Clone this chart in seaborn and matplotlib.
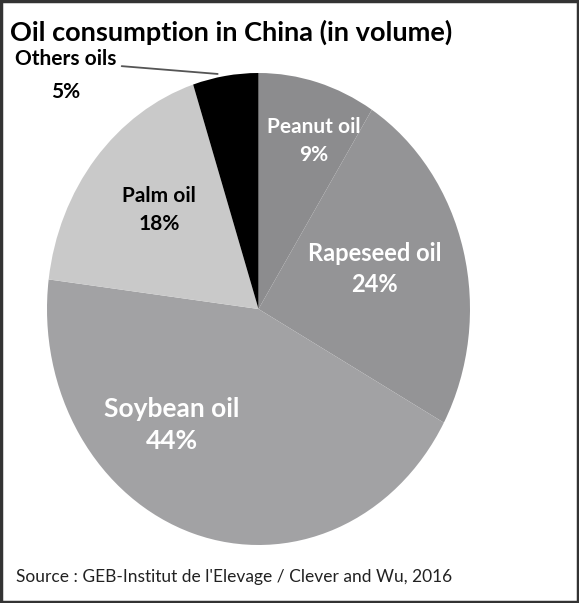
import matplotlib
matplotlib.use("Agg")
import matplotlib.pyplot as plt
import seaborn as sns
from matplotlib.patches import Rectangle

sns.set_theme(style="white")
plt.rcParams['font.family'] = ['Lato', 'DejaVu Sans']

# data, clockwise from the top
labels = ["Peanut oil", "Rapeseed oil", "Soybean oil", "Palm oil", "Others oils"]
shares = [9, 24, 44, 18, 5]
colors = ["#8c8c8e", "#949496", "#a2a2a4", "#c9c9c9", "#000000"]
text_colors = ["white", "white", "white", "black", "black"]
# label centres in axes data units (pie is stretched so 1 = radius on each axis)
label_pos = [(0.26, 0.71), (0.55, 0.17), (-0.41, -0.49), (-0.47, 0.42), (-0.91, 0.99)]
label_size = [15, 17, 19, 15, 15]
label_spacing = [1.5, 1.45, 1.4, 1.5, 1.85]

fig = plt.figure(figsize=(5.79, 6.03), dpi=100)
ax = fig.add_axes([47 / 579, 58 / 603, 423 / 579, 472 / 603])

wedges, _ = ax.pie(shares, colors=colors, startangle=90, counterclock=False,
                   wedgeprops=dict(linewidth=0))
ax.set_aspect('auto')
ax.set_xlim(-1, 1)
ax.set_ylim(-1, 1)
ax.axis('off')

for lab, val, (x, y), c, s, ls in zip(labels, shares, label_pos, text_colors,
                                      label_size, label_spacing):
    ax.text(x, y, f"{lab}\n{val}%", ha='center', va='center', color=c,
            fontsize=s, fontweight='bold', linespacing=ls, clip_on=False)

# leader line for the small slice
ax.annotate("", xy=(-0.18, 0.995), xytext=(-0.66, 1.03),
            arrowprops=dict(arrowstyle='-', color='#555555', lw=1.3),
            annotation_clip=False)

fig.text(0.017, 0.968, "Oil consumption in China (in volume)", fontsize=19.5,
         fontweight='bold', ha='left', va='top', color='black')
fig.text(0.027, 0.043, "Source : GEB-Institut de l'Elevage / Clever and Wu, 2016",
         fontsize=12.5, ha='left', va='center', color='#222222')

fig.patches.append(Rectangle((0.002, 0.002), 0.996, 0.996, transform=fig.transFigure,
                             fill=False, edgecolor='#333333', linewidth=2.5))

fig.savefig("out.png", dpi=100)
